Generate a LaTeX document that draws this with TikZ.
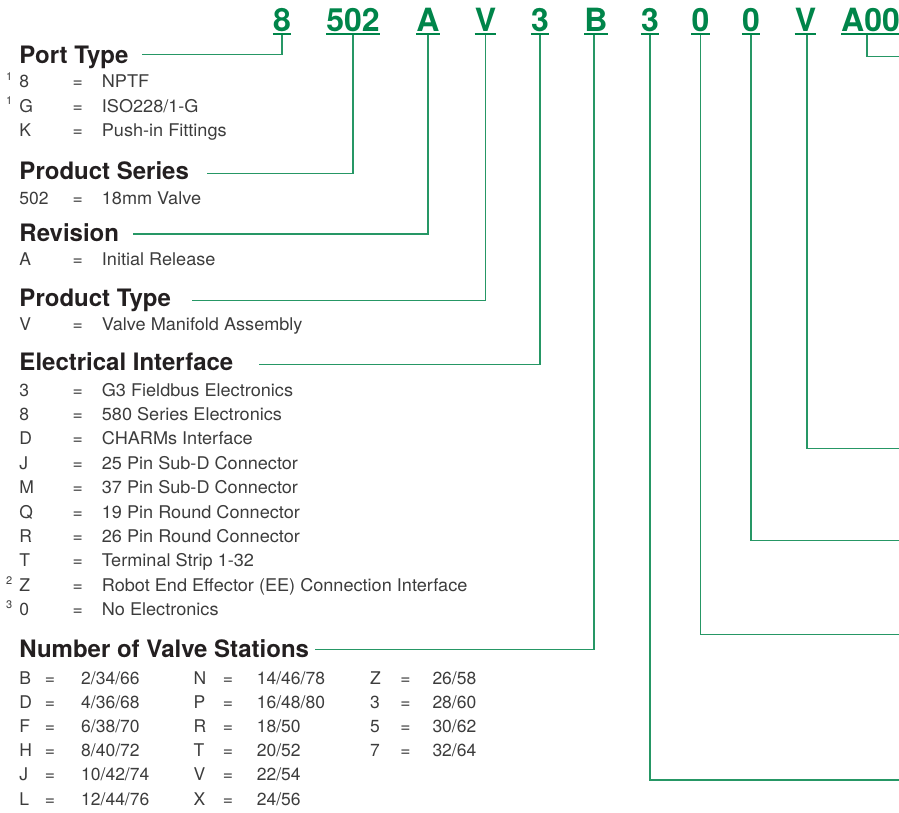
\documentclass[tikz,border=0pt]{standalone}
\usepackage{fontspec}
\setmainfont{TeX Gyre Heros}
\newfontfamily\descfont{TeX Gyre Heros}[FakeStretch=1.035]
\usetikzlibrary{positioning}
\definecolor{emgreen}{RGB}{0,133,74}
\definecolor{bodygray}{RGB}{60,60,60}
\definecolor{headblack}{RGB}{35,31,32}

\begin{document}
\begin{tikzpicture}[
    x=1pt, y=-1pt,
    code/.style={anchor=base, inner sep=0pt, text=emgreen, font=\fontsize{32}{36}\selectfont\bfseries},
    uline/.style={emgreen, line width=2pt},
    lead/.style={emgreen!85, line width=1.3pt},
    head/.style={anchor=base west, inner sep=0pt, text=headblack, font=\fontsize{24}{28}\selectfont\bfseries},
    key/.style={anchor=base west, inner sep=0pt, text=bodygray, font=\fontsize{17.5}{20}\selectfont},
    eq/.style={anchor=base, inner sep=0pt, text=bodygray, font=\fontsize{17.5}{20}\selectfont},
    desc/.style={key, font=\fontsize{17.5}{20}\descfont},
    fnote/.style={anchor=base west, inner sep=0pt, text=bodygray, font=\fontsize{11}{12}\selectfont},
]
\useasboundingbox (0,0) rectangle (899,812);

% Part number code
\node[code] (c8)   at (282,31)   {8};
\node[code] (c502) at (353,31)   {502};
\node[code] (cA)   at (428,31)   {A};
\node[code] (cV)   at (485.5,31) {V};
\node[code] (c3)   at (540,31)   {3};
\node[code] (cB)   at (596,31)   {B};
\node[code] (c3b)  at (650,31)   {3};
\node[code] (c0)   at (700.5,31) {0};
\node[code] (c0b)  at (751,31)   {0};
\node[code] (cVb)  at (805.5,31) {V};
\node[code, anchor=base west] (cA00) at (841,31) {A00};

% Underlines
\foreach \n in {c8,c502,cA,cV,c3,cB,c3b,c0,c0b,cVb,cA00}
    \draw[uline] ([yshift=-2.5pt]\n.base west) -- ([yshift=-2.5pt]\n.base east);

% Lead ends
\coordinate (tPort)     at (142,54.3);
\coordinate (tSeries)   at (206.7,173.3);
\coordinate (tRev)      at (133.3,234);
\coordinate (tType)     at (191.7,300.7);
\coordinate (tElec)     at (259.3,364.3);
\coordinate (tStations) at (315,649.5);
\coordinate (eA00) at (905,56.3);
\coordinate (eVb)  at (905,448.7);
\coordinate (e0b)  at (905,540.3);
\coordinate (e0)   at (905,634.7);
\coordinate (e3b)  at (905,780);

% Leads
\draw[lead] ([yshift=-3.5pt]c8.base)   |- (tPort);
\draw[lead] ([yshift=-3.5pt]c502.base) |- (tSeries);
\draw[lead] ([yshift=-3.5pt]cA.base)   |- (tRev);
\draw[lead] ([yshift=-3.5pt]cV.base)   |- (tType);
\draw[lead] ([yshift=-3.5pt]c3.base)   |- (tElec);
\draw[lead] ([xshift=-2pt,yshift=-3.5pt]cB.base) |- (tStations);
\draw[lead] ([yshift=-3.5pt]c3b.base)  |- (e3b);
\draw[lead] ([yshift=-3.5pt]c0.base)   |- (e0);
\draw[lead] ([yshift=-3.5pt]c0b.base)  |- (e0b);
\draw[lead] ([xshift=1.5pt,yshift=-3.5pt]cVb.base) |- (eVb);
\draw[lead] ([xshift=26pt,yshift=-3.5pt]cA00.base west) |- (eA00);

% Headings
\node[head] (hPort)     at (19.3,63.3)  {Port Type};
\node[head] (hSeries)   at (19.3,179)   {Product Series};
\node[head] (hRev)      at (19.3,241.7) {Revision};
\node[head] (hType)     at (19.3,306.7) {Product Type};
\node[head] (hElec)     at (19.3,370.7) {Electrical Interface};
\node[head] (hStations) at (19.3,657.7) {Number of Valve Stations};

% Port type
\foreach \k/\d [count=\i] in {8/NPTF, G/{ISO228/1-G}, K/Push-in Fittings} {
    \node[key]  (pk\i) at (19.3,{63.3+24.5*\i}) {\k};
    \node[eq]   (pe\i) at (77.7,{63.3+24.5*\i}) {=};
    \node[desc] (pd\i) at (101.7,{63.3+24.5*\i}) {\d};
}
\node[fnote] (n1) at (6,80)    {1};
\node[fnote] (n2) at (6,104.5) {1};

% Product series
\node[key]  (sk) at (19.3,204)  {502};
\node[eq]   (se) at (77.7,204)  {=};
\node[desc] (sd) at (101.7,204) {18mm Valve};

% Revision
\node[key]  (rk) at (19.3,265)  {A};
\node[eq]   (re) at (77.7,265)  {=};
\node[desc] (rd) at (101.7,265) {Initial Release};

% Product type
\node[key]  (tk) at (19.3,330.7)  {V};
\node[eq]   (te) at (77.7,330.7)  {=};
\node[desc] (td) at (101.7,330.7) {Valve Manifold Assembly};

% Electrical interface
\foreach \k/\d [count=\i] in {3/G3 Fieldbus Electronics, 8/580 Series Electronics,
    D/CHARMs Interface, J/25 Pin Sub-D Connector, M/37 Pin Sub-D Connector,
    Q/19 Pin Round Connector, R/26 Pin Round Connector, T/Terminal Strip 1-32,
    Z/Robot End Effector (EE) Connection Interface, 0/No Electronics} {
    \node[key]  (ek\i) at (19.3,{396+24.4*(\i-1)}) {\k};
    \node[eq]   (ee\i) at (77.7,{396+24.4*(\i-1)}) {=};
    \node[desc] (ed\i) at (101.7,{396+24.4*(\i-1)}) {\d};
}
\node[fnote] (n3) at (6,584) {2};
\node[fnote] (n4) at (6,608.6) {3};

% Number of valve stations
\foreach \k/\v [count=\i] in {B/{2/34/66}, D/{4/36/68}, F/{6/38/70},
    H/{8/40/72}, J/{10/42/74}, L/{12/44/76}} {
    \node[key] (sa\i) at (19.3,{684+24.2*(\i-1)}) {\k};
    \node[eq]  (qa\i) at (50,{684+24.2*(\i-1)}) {=};
    \node[key] (va\i) at (81,{684+24.2*(\i-1)}) {\v};
}
\foreach \k/\v [count=\i] in {N/{14/46/78}, P/{16/48/80}, R/{18/50},
    T/{20/52}, V/{22/54}, X/{24/56}} {
    \node[key] (sb\i) at (193.3,{684+24.2*(\i-1)}) {\k};
    \node[eq]  (qb\i) at (228,{684+24.2*(\i-1)}) {=};
    \node[key] (vb\i) at (256.7,{684+24.2*(\i-1)}) {\v};
}
\foreach \k/\v [count=\i] in {Z/{26/58}, 3/{28/60}, 5/{30/62}, 7/{32/64}} {
    \node[key] (sc\i) at (370,{684+24.2*(\i-1)}) {\k};
    \node[eq]  (qc\i) at (405.5,{684+24.2*(\i-1)}) {=};
    \node[key] (vc\i) at (432.3,{684+24.2*(\i-1)}) {\v};
}

\end{tikzpicture}
\end{document}
